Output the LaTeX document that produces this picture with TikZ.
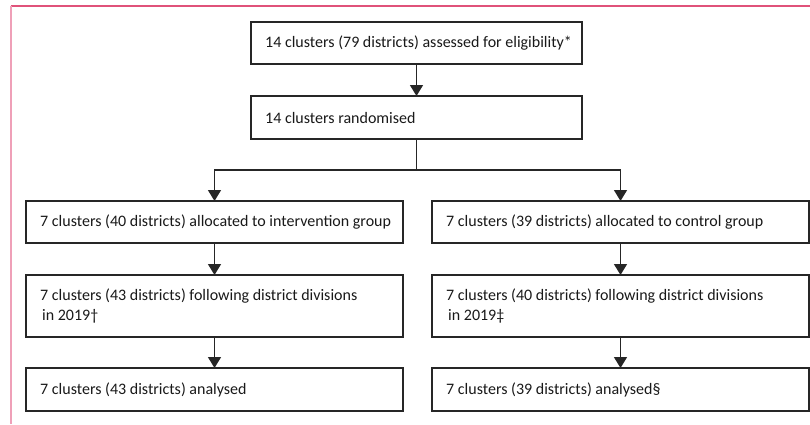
\documentclass[tikz,border=0pt]{standalone}
\usepackage{fontspec}
\setmainfont{Carlito}
\usetikzlibrary{arrows.meta}
\definecolor{framepink}{HTML}{E0527A}
\definecolor{framelight}{HTML}{EFA0B8}
\tikzset{
  boxline/.style={draw=black!85, line width=1.4pt},
  flowbox/.style={boxline, fill=white},
  boxtext/.style={anchor=west, inner sep=0pt, font=\fontsize{16}{19.5}\selectfont, align=left, text=black!90},
  flowarrow/.style={line width=1.4pt, draw=black!85, -{Triangle[width=13pt,length=11pt]}},
  flowline/.style={line width=1.4pt, draw=black!85},
}
\begin{document}
\begin{tikzpicture}[x=1pt,y=-1pt]
\useasboundingbox (0,0) rectangle (810,424);
% frame
\draw[framepink, line width=1.5pt] (10.5,6) -- (810,6);
\draw[framelight, line width=1.5pt] (11,6) -- (11,424);
% boxes
\draw[flowbox] (251,22) rectangle (582,64);
\coordinate (b1top) at (416.5,22); \coordinate (b1bot) at (416.5,64);
\node[boxtext] (t1) at (265,43) {14 clusters (79 districts) assessed for eligibility*};

\draw[flowbox] (251,96) rectangle (582,139);
\coordinate (b2top) at (416.5,96); \coordinate (b2bot) at (416.5,139);
\node[boxtext] (t2) at (265,117.5) {14 clusters randomised};

\draw[flowbox] (26,201) rectangle (403,243);
\coordinate (l1top) at (214.5,201); \coordinate (l1bot) at (214.5,243);
\node[boxtext] (tl1) at (40,222) {7 clusters (40 districts) allocated to intervention group};

\draw[flowbox] (432,201) rectangle (809,243);
\coordinate (r1top) at (620.5,201); \coordinate (r1bot) at (620.5,243);
\node[boxtext] (tr1) at (446,222) {7 clusters (39 districts) allocated to control group};

\draw[flowbox] (26,275) rectangle (403,337);
\coordinate (l2top) at (214.5,275); \coordinate (l2bot) at (214.5,337);
\node[boxtext] (tl2) at (40,306) {7 clusters (43 districts) following district divisions\\\hspace*{2pt}in 2019\textdagger};

\draw[flowbox] (432,275) rectangle (809,337);
\coordinate (r2top) at (620.5,275); \coordinate (r2bot) at (620.5,337);
\node[boxtext] (tr2) at (446,306) {7 clusters (40 districts) following district divisions\\\hspace*{2pt}in 2019\textdaggerdbl};

\draw[flowbox] (26,368) rectangle (403,411);
\coordinate (l3top) at (214.5,368);
\node[boxtext] (tl3) at (40,389.5) {7 clusters (43 districts) analysed};

\draw[flowbox] (432,368) rectangle (809,411);
\coordinate (r3top) at (620.5,368);
\node[boxtext] (tr3) at (446,389.5) {7 clusters (39 districts) analysed\S};

% connectors
\coordinate (split) at (416.5,170);
\coordinate (splitL) at (214.5,170);
\coordinate (splitR) at (620.5,170);
\draw[flowarrow] (b1bot) -- (b2top);
\draw[flowline] (b2bot) -- (split);
\draw[flowarrow] (split) -- (splitL) -- (l1top);
\draw[flowarrow] (split) -- (splitR) -- (r1top);
\draw[flowarrow] (l1bot) -- (l2top);
\draw[flowarrow] (r1bot) -- (r2top);
\draw[flowarrow] (l2bot) -- (l3top);
\draw[flowarrow] (r2bot) -- (r3top);
\end{tikzpicture}
\end{document}
